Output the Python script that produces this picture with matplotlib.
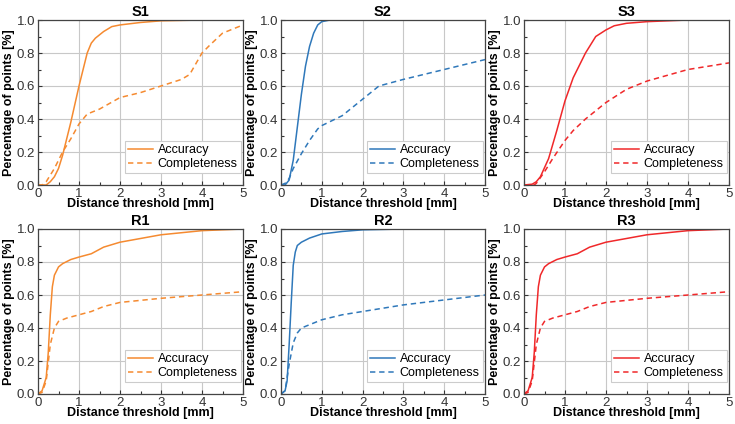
import matplotlib
matplotlib.use("Agg")
import matplotlib.pyplot as plt
import numpy as np
from matplotlib.ticker import MultipleLocator

plt.rcParams['font.family'] = ['Liberation Sans', 'DejaVu Sans']

titles = ["S1", "S2", "S3", "R1", "R2", "R3"]
colors = ["#F58A30", "#2F78BA", "#F0282A", "#F58A30", "#2F78BA", "#F0282A"]

# S1
s1_acc_x = [0, 0.2, 0.3, 0.4, 0.5, 0.6, 0.8, 1.0, 1.2, 1.3, 1.4, 1.6, 1.8, 2.0, 2.5, 3.0, 4.0, 5.0]
s1_acc_y = [0, 0.0, 0.02, 0.05, 0.1, 0.18, 0.38, 0.6, 0.8, 0.86, 0.89, 0.93, 0.96, 0.97, 0.985, 0.995, 1.0, 1.0]
s1_com_x = [0, 0.1, 0.2, 0.4, 0.6, 0.8, 1.0, 1.2, 1.5, 2.0, 2.5, 3.0, 3.5, 3.7, 4.0, 4.2, 4.5, 5.0]
s1_com_y = [0, 0.0, 0.02, 0.1, 0.2, 0.28, 0.37, 0.43, 0.46, 0.53, 0.56, 0.6, 0.64, 0.67, 0.8, 0.85, 0.92, 0.97]
# S2
s2_acc_x = [0, 0.1, 0.2, 0.3, 0.4, 0.5, 0.6, 0.7, 0.8, 0.9, 1.0, 1.2, 5.0]
s2_acc_y = [0, 0.0, 0.03, 0.15, 0.35, 0.55, 0.72, 0.84, 0.92, 0.97, 0.99, 1.0, 1.0]
s2_com_x = [0, 0.1, 0.2, 0.3, 0.5, 0.7, 0.9, 1.0, 1.5, 2.0, 2.4, 3.0, 4.0, 5.0]
s2_com_y = [0, 0.01, 0.04, 0.1, 0.19, 0.27, 0.34, 0.36, 0.42, 0.52, 0.6, 0.64, 0.7, 0.76]
# S3
s3_acc_x = [0, 0.2, 0.3, 0.4, 0.6, 0.8, 1.0, 1.2, 1.5, 1.75, 2.0, 2.2, 2.5, 3.0, 4.0, 5.0]
s3_acc_y = [0, 0.005, 0.02, 0.05, 0.16, 0.33, 0.51, 0.65, 0.8, 0.9, 0.94, 0.965, 0.98, 0.99, 1.0, 1.0]
s3_com_x = [0, 0.25, 0.3, 0.5, 0.7, 1.0, 1.2, 1.5, 2.0, 2.5, 3.0, 4.0, 5.0]
s3_com_y = [0, 0.0, 0.01, 0.08, 0.16, 0.27, 0.33, 0.4, 0.5, 0.58, 0.63, 0.7, 0.74]
# R1
r1_acc_x = [0, 0.1, 0.2, 0.25, 0.3, 0.35, 0.4, 0.5, 0.6, 0.8, 1.0, 1.3, 1.6, 2.0, 3.0, 4.0, 5.0]
r1_acc_y = [0, 0.02, 0.1, 0.25, 0.48, 0.65, 0.72, 0.77, 0.79, 0.815, 0.83, 0.85, 0.89, 0.92, 0.965, 0.99, 1.0]
r1_com_x = [0, 0.1, 0.2, 0.3, 0.4, 0.5, 0.7, 1.0, 1.3, 1.6, 2.0, 3.0, 4.0, 5.0]
r1_com_y = [0, 0.01, 0.08, 0.3, 0.4, 0.44, 0.46, 0.48, 0.5, 0.53, 0.555, 0.58, 0.6, 0.62]
# R2
r2_acc_x = [0, 0.1, 0.15, 0.2, 0.25, 0.3, 0.35, 0.4, 0.5, 0.7, 1.0, 1.5, 2.0, 3.0, 5.0]
r2_acc_y = [0, 0.02, 0.08, 0.3, 0.55, 0.78, 0.86, 0.9, 0.92, 0.945, 0.97, 0.985, 0.995, 1.0, 1.0]
r2_com_x = [0, 0.1, 0.2, 0.3, 0.4, 0.5, 0.7, 1.0, 1.5, 2.0, 3.0, 4.0, 5.0]
r2_com_y = [0, 0.02, 0.18, 0.31, 0.37, 0.4, 0.42, 0.45, 0.48, 0.5, 0.54, 0.57, 0.6]
# R3
r3_acc_x = [0, 0.1, 0.2, 0.25, 0.3, 0.35, 0.4, 0.5, 0.6, 0.8, 1.0, 1.3, 1.6, 2.0, 3.0, 4.0, 5.0]
r3_acc_y = [0, 0.02, 0.1, 0.25, 0.48, 0.65, 0.72, 0.77, 0.79, 0.815, 0.83, 0.85, 0.89, 0.92, 0.965, 0.99, 1.0]
r3_com_x = [0, 0.1, 0.2, 0.3, 0.4, 0.5, 0.7, 1.0, 1.3, 1.6, 2.0, 3.0, 4.0, 5.0]
r3_com_y = [0, 0.01, 0.08, 0.3, 0.4, 0.44, 0.46, 0.48, 0.5, 0.53, 0.555, 0.58, 0.6, 0.62]

series = [
    (s1_acc_x, s1_acc_y, s1_com_x, s1_com_y),
    (s2_acc_x, s2_acc_y, s2_com_x, s2_com_y),
    (s3_acc_x, s3_acc_y, s3_com_x, s3_com_y),
    (r1_acc_x, r1_acc_y, r1_com_x, r1_com_y),
    (r2_acc_x, r2_acc_y, r2_com_x, r2_com_y),
    (r3_acc_x, r3_acc_y, r3_com_x, r3_com_y),
]

W, H = 735, 424
fig = plt.figure(figsize=(W / 100, H / 100), dpi=100)
lefts = [38, 281, 524]
widths = [205, 204, 205]
tops = [20, 229]
bottoms = [185, 394]

for i, (t, c, (ax_, ay_, cx_, cy_)) in enumerate(zip(titles, colors, series)):
    r, col = divmod(i, 3)
    l = lefts[col] / W
    w = widths[col] / W
    b = 1 - bottoms[r] / H
    h = (bottoms[r] - tops[r]) / H
    ax = fig.add_axes([l, b, w, h])
    ax.plot(ax_, ay_, color=c, lw=1.1, label="Accuracy")
    ax.plot(cx_, cy_, color=c, lw=1.1, ls=(0, (3.5, 2.5)), label="Completeness")
    ax.set_xlim(0, 5)
    ax.set_ylim(0, 1.0)
    ax.xaxis.set_major_locator(MultipleLocator(1))
    ax.xaxis.set_minor_locator(MultipleLocator(0.5))
    ax.yaxis.set_minor_locator(MultipleLocator(0.1))
    ax.set_yticks(np.arange(0, 1.01, 0.2))
    ax.set_yticklabels([f"{v:.1f}" for v in np.arange(0, 1.01, 0.2)])
    ax.grid(True, which='major', color='#c8c8c8', lw=0.8)
    ax.set_axisbelow(True)
    ax.tick_params(which='both', direction='in', labelsize=9.5, length=3, width=0.8, colors='#333333',
                   pad=2, top=False, right=False)
    ax.tick_params(which='minor', length=2)
    for s in ax.spines.values():
        s.set_color('#444444')
        s.set_linewidth(0.9)
    ax.set_title(t, fontsize=10.5, fontweight='bold', pad=3)
    ax.set_xlabel("Distance threshold [mm]", fontsize=9, fontweight='bold', labelpad=-1)
    ax.set_ylabel("Percentage of points [%]", fontsize=9, fontweight='bold', labelpad=1)
    leg = ax.legend(loc='lower right', bbox_to_anchor=(0.99, 0.07), fontsize=9, fancybox=False,
                    framealpha=1, edgecolor='#cccccc', handlelength=2.0, borderpad=0.25,
                    labelspacing=0.15, handletextpad=0.4, borderaxespad=0.0)
    leg.get_frame().set_linewidth(0.8)

fig.savefig("out.png", dpi=100)
